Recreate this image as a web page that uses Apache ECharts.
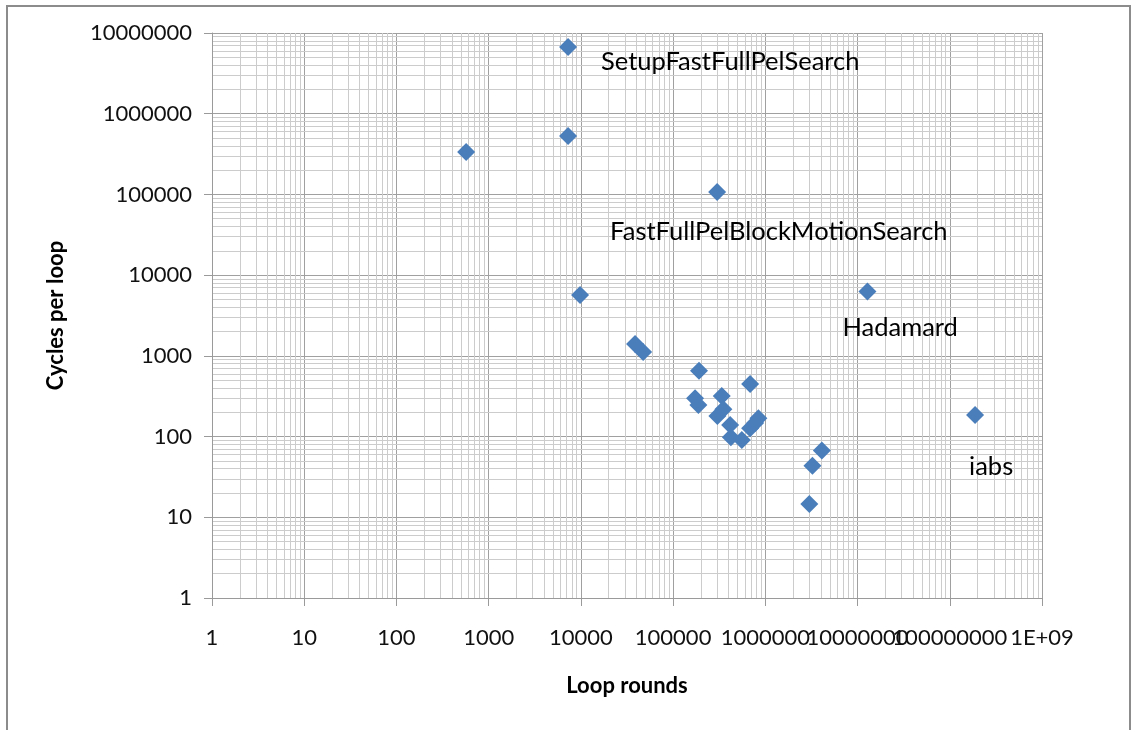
<!DOCTYPE html>
<html>
<head>
<meta charset="utf-8">
<title>Cycles per loop vs loop rounds</title>
<script src="https://cdn.jsdelivr.net/npm/echarts@6/dist/echarts.min.js"></script>
<style>
  html, body { margin: 0; padding: 0; background: #fff; }
  #main { width: 1133px; height: 730px; }
</style>
</head>
<body>
<div id="main"></div>
<script>
// loop rounds (x) and cycles per loop (y)
var loopRounds = [570, 7260, 7260, 300000, 9800, 12800000, 38700, 47300,
                  191000, 173000, 188000, 337000, 684000, 302000, 351000,
                  415000, 423000, 556000, 684000, 841000, 775000,
                  4100000, 3240000, 3000000, 188000000];
var cyclesPerLoop = [336000, 6730000, 531000, 107000, 5690, 6250, 1400, 1117,
                     656, 298, 246, 318, 449, 180, 218,
                     139, 98, 91, 127, 169, 147,
                     67, 43.6, 14.6, 185];
// function names shown next to some points
var funcNames = ['', 'SetupFastFullPelSearch', '', 'FastFullPelBlockMotionSearch', '', 'Hadamard', '', '',
                 '', '', '', '', '', '', '',
                 '', '', '', '', '', '',
                 '', '', '', 'iabs'];
var xTickLabels = ['1', '10', '100', '1000', '10000', '100000', '1000000', '10000000', '100000000', '1E+09'];
var yTickLabels = ['1', '10', '100', '1000', '10000', '100000', '1000000', '10000000'];

var myChart = echarts.init(document.getElementById('main'));

// label placement for the named points
var labelOffset = {
    'SetupFastFullPelSearch': [33, 15],
    'FastFullPelBlockMotionSearch': [-107, 40],
    'Hadamard': [-25, 36],
    'iabs': [-6, 52]
};

var points = [];
for (var i = 0; i < loopRounds.length; i++) {
    var p = { value: [loopRounds[i], cyclesPerLoop[i]] };
    if (funcNames[i]) {
        p.label = {
            show: true,
            formatter: funcNames[i],
            position: 'inside',
            align: 'left',
            verticalAlign: 'middle',
            offset: labelOffset[funcNames[i]]
        };
    }
    points.push(p);
}

// minor gridlines at 2..9 of every decade
var minorLines = [];
for (var e = 0; e < 9; e++) {
    for (var m = 2; m < 10; m++) {
        minorLines.push({ xAxis: m * Math.pow(10, e) });
        if (e < 7) minorLines.push({ yAxis: m * Math.pow(10, e) });
    }
}

function logLabel(list) {
    return function (v) {
        var k = Math.round(Math.log(v) / Math.LN10);
        return list[k] !== undefined ? list[k] : '';
    };
}

var axisFont = { fontFamily: 'Lato', fontSize: 22, color: '#111' };
var titleFont = { fontFamily: 'Lato', fontSize: 22, fontWeight: 'bold', color: '#000' };

var option = {
    animation: false,
    backgroundColor: '#fff',
    graphic: [{
        type: 'rect',
        shape: { x: 7, y: 6, width: 1123, height: 740 },
        style: { fill: 'none', stroke: '#8c8c8c', lineWidth: 2 },
        silent: true
    }],
    grid: { left: 212, right: 91, top: 33, bottom: 132, containLabel: false, outerBoundsMode: 'none' },
    xAxis: {
        type: 'log',
        logBase: 10,
        min: 1,
        max: 1e9,
        splitNumber: 9,
        name: 'Loop rounds',
        nameLocation: 'middle',
        nameGap: 77,
        nameTextStyle: titleFont,
        axisLine: { lineStyle: { color: '#9a9a9a', width: 1 } },
        axisTick: { show: true, length: 8, lineStyle: { color: '#9a9a9a' } },
        axisLabel: Object.assign({ margin: 29, showMinLabel: true, showMaxLabel: true, hideOverlap: false,
                                   formatter: logLabel(xTickLabels) }, axisFont),
        splitLine: { show: true, lineStyle: { color: '#a0a0a0', width: 1 } }
    },
    yAxis: {
        type: 'log',
        logBase: 10,
        min: 1,
        max: 1e7,
        splitNumber: 7,
        name: 'Cycles per loop',
        nameLocation: 'middle',
        nameRotate: 90,
        nameGap: 145,
        nameTextStyle: titleFont,
        axisLine: { show: true, lineStyle: { color: '#9a9a9a', width: 1 } },
        axisTick: { show: true, length: 8, lineStyle: { color: '#9a9a9a' } },
        axisLabel: Object.assign({ margin: 20, showMinLabel: true, showMaxLabel: true,
                                   formatter: logLabel(yTickLabels) }, axisFont),
        splitLine: { show: true, lineStyle: { color: '#a0a0a0', width: 1 } }
    },
    series: [
        {
            name: 'grid',
            type: 'scatter',
            data: [],
            silent: true,
            z: 0,
            markLine: {
                silent: true,
                z: 0,
                symbol: ['none', 'none'],
                label: { show: false },
                lineStyle: { color: '#cccccc', width: 1, type: 'solid' },
                emphasis: { disabled: true },
                animation: false,
                data: minorLines
            }
        },
        {
            name: 'Cycles per loop',
            type: 'scatter',
            symbol: 'diamond',
            symbolSize: 18,
            z: 3,
            itemStyle: { color: '#4a7ebb', opacity: 1 },
            label: { fontFamily: 'Lato', fontSize: 25.5, color: '#000', textBorderWidth: 0 },
            data: points
        }
    ]
};

myChart.setOption(option);
</script>
</body>
</html>
